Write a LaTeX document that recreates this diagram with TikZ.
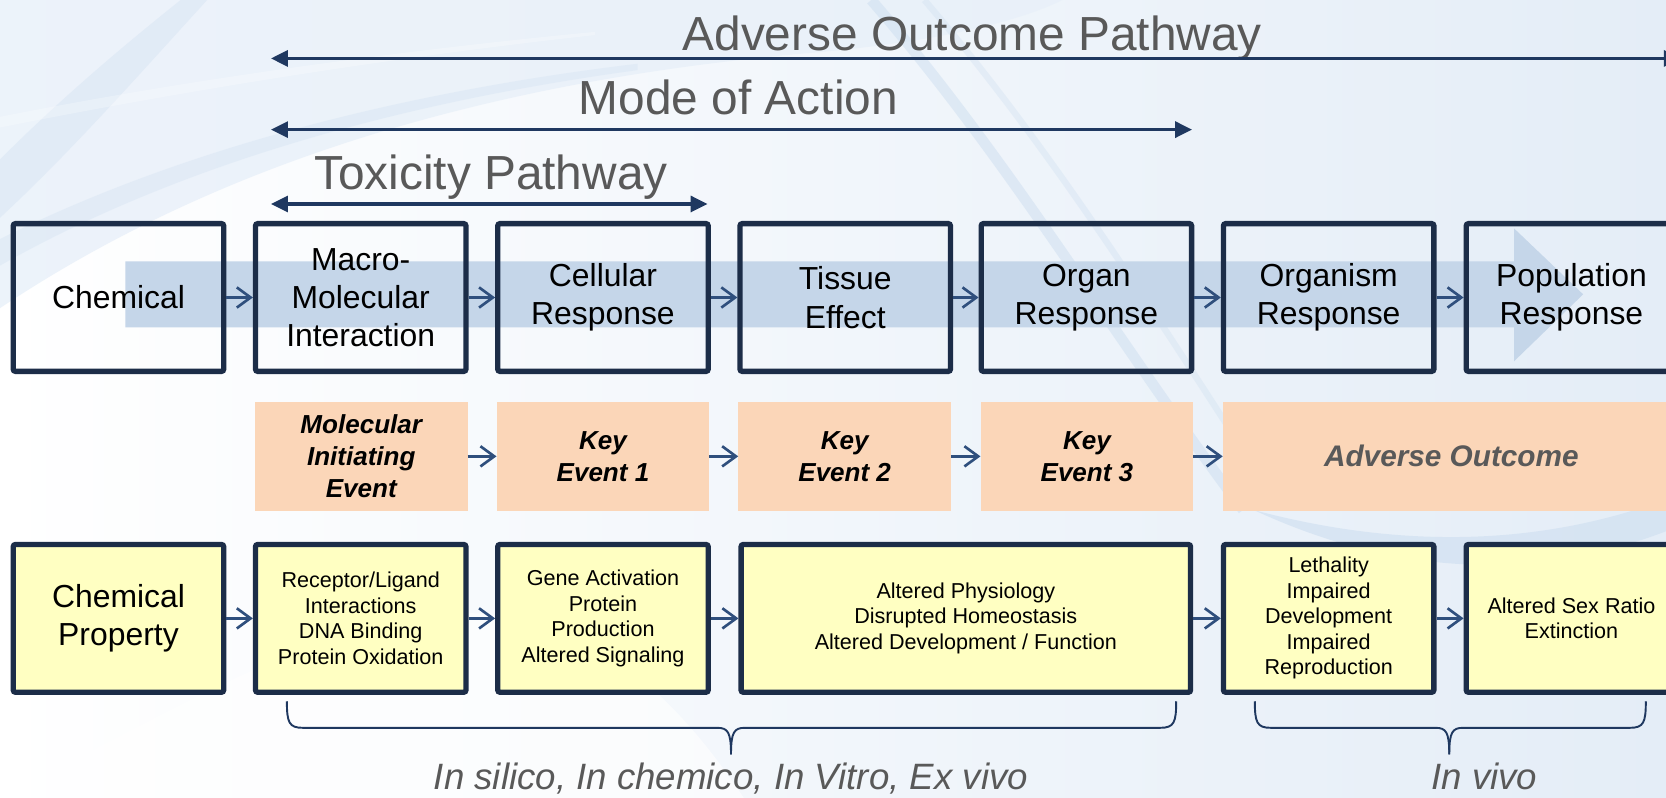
\documentclass[tikz,border=0pt]{standalone}
\usepackage{fontspec}
\setmainfont{Liberation Sans}
\usetikzlibrary{arrows.meta}
\definecolor{navy}{RGB}{28,45,72}
\definecolor{arrowblue}{RGB}{31,56,96}
\definecolor{smallarrow}{RGB}{47,79,125}
\definecolor{txtgray}{RGB}{89,89,89}
\definecolor{peach}{RGB}{251,214,184}
\definecolor{paleyellow}{RGB}{255,255,194}
\definecolor{bandblue}{RGB}{197,214,233}
\definecolor{bgblue}{RGB}{228,237,247}
\definecolor{swoosh}{RGB}{205,222,240}
\definecolor{paleblue}{RGB}{232,240,249}
\tikzset{
 stagebox/.style={draw=navy, line width=5pt, rounded corners=2pt, minimum width=198pt, minimum height=139pt, align=center, font=\fontsize{30}{36}\selectfont, inner sep=0pt},
 propbox/.style={stagebox, fill=paleyellow},
 eventbox/.style={fill=peach, minimum width=200pt, minimum height=103pt, align=center, font=\fontsize{24.5}{30}\selectfont\bfseries\itshape, inner sep=0pt},
 smalltext/.style={font=\fontsize{20.3}{24}\selectfont},
 flow/.style={draw=smallarrow, line width=2.5pt, -{Straight Barb[length=13pt,width=19pt]}},
 span/.style={draw=arrowblue, line width=3pt, {Triangle[length=16pt,width=15pt]}-{Triangle[length=16pt,width=15pt]}},
 title/.style={font=\fontsize{45}{50}\selectfont, text=txtgray, inner sep=0pt, anchor=base},
 brace/.style={draw=arrowblue, line width=1.8pt},
 method/.style={font=\fontsize{34.5}{38}\selectfont\itshape, text=txtgray, inner sep=0pt, anchor=base},
}
\begin{document}
\begin{tikzpicture}[x=1pt,y=-1pt]
\useasboundingbox (0,0) rectangle (1568,751);
% background
\fill[left color=white, right color=bgblue] (0,0) rectangle (1568,751);
\fill[white, opacity=0.6] (0,751) .. controls (300,600) and (500,450) .. (700,751) -- cycle;
\fill[paleblue, opacity=0.8] (0,0) -- (0,290) .. controls (180,170) and (420,80) .. (760,50) .. controls (880,40) and (960,20) .. (1000,0) -- cycle;
\fill[swoosh, opacity=0.35] (0,150) .. controls (60,90) and (120,40) .. (170,0) -- (195,0) .. controls (140,60) and (70,140) .. (0,205) -- cycle;
\fill[swoosh, opacity=0.3] (0,225) .. controls (150,150) and (350,90) .. (600,60) -- (600,66) .. controls (350,100) and (150,165) .. (0,250) -- cycle;
\fill[white, opacity=0.25] (0,110) .. controls (150,80) and (350,50) .. (560,30) -- (560,33) .. controls (350,56) and (150,90) .. (0,120) -- cycle;
\draw[swoosh, opacity=0.5, line width=10pt] (820,0) .. controls (950,150) and (1050,320) .. (1170,480);
\draw[swoosh, opacity=0.35, line width=6pt] (870,0) .. controls (990,140) and (1090,300) .. (1200,470);
\fill[swoosh, opacity=0.6] (1180,480) .. controls (1330,520) and (1460,510) .. (1568,470) -- (1568,500) .. controls (1450,545) and (1320,545) .. (1180,480) -- cycle;

% top spans
\node[title] (aopt) at (915,48) {Adverse Outcome Pathway};
\node[title] (moat) at (695,108) {Mode of Action};
\node[title] (tpt) at (462,178) {Toxicity Pathway};
\coordinate (aopL) at (255,55); \coordinate (aopR) at (1582,55);
\coordinate (moaL) at (255,122); \coordinate (moaR) at (1122,122);
\coordinate (tpL) at (255,192); \coordinate (tpR) at (666,192);
\draw[span] (aopL) -- (aopR);
\draw[span] (moaL) -- (moaR);
\draw[span] (tpL) -- (tpR);

% big band arrow
\fill[bandblue] (118,246) -- (1425,246) -- (1425,215) -- (1490,277) -- (1425,340) -- (1425,308) -- (118,308) -- cycle;

% row 1
\node[stagebox] (chem) at (111.5,280) {Chemical};
\node[stagebox] (macro) at (339.5,280) {Macro-\\Molecular\\Interaction};
\node[stagebox] (cell) at (567.5,280) {Cellular\\Response};
\node[stagebox] (tissue) at (795.5,280) {Tissue\\Effect};
\node[stagebox] (organ) at (1022.5,280) {Organ\\Response};
\node[stagebox] (organism) at (1250.5,280) {Organism\\Response};
\node[stagebox] (pop) at (1479,280) {Population\\Response};
\draw[flow] (chem) -- (macro);
\draw[flow] (macro) -- (cell);
\draw[flow] (cell) -- (tissue);
\draw[flow] (tissue) -- (organ);
\draw[flow] (organ) -- (organism);
\draw[flow] (organism) -- (pop);

% row 2
\node[eventbox] (mie) at (340,429.5) {Molecular\\Initiating\\Event};
\node[eventbox] (ke1) at (567.5,429.5) {Key\\Event 1};
\node[eventbox] (ke2) at (795,429.5) {Key\\Event 2};
\node[eventbox] (ke3) at (1023,429.5) {Key\\Event 3};
\node[eventbox, minimum width=430pt, text=txtgray, font=\fontsize{28}{32}\selectfont\bfseries\itshape] (ao) at (1366,429.5) {Adverse Outcome};
\draw[flow] (mie) -- (ke1);
\draw[flow] (ke1) -- (ke2);
\draw[flow] (ke2) -- (ke3);
\draw[flow] (ke3) -- (ao);

% row 3
\node[propbox] (prop) at (111.5,582) {Chemical\\Property};
\node[propbox, smalltext] (rec) at (339.5,582) {Receptor/Ligand\\Interactions\\DNA Binding\\Protein Oxidation};
\node[propbox, smalltext] (gene) at (567.5,582) {Gene Activation\\Protein\\Production\\Altered Signaling};
\node[propbox, smalltext, minimum width=423pt] (phys) at (909,582) {Altered Physiology\\Disrupted Homeostasis\\Altered Development / Function};
\node[propbox, smalltext] (leth) at (1250.5,582) {Lethality\\Impaired\\Development\\Impaired\\Reproduction};
\node[propbox, smalltext] (sex) at (1479,582) {Altered Sex Ratio\\Extinction};
\draw[flow] (prop) -- (rec);
\draw[flow] (rec) -- (gene);
\draw[flow] (gene) -- (phys);
\draw[flow] (phys) -- (leth);
\draw[flow] (leth) -- (sex);

% braces
\coordinate (b1L) at (270,660); \coordinate (b1T) at (688,710); \coordinate (b1R) at (1107,660);
\draw[brace] (b1L) .. controls (270,680) and (272,685) .. (285,685) -- (675,685) .. controls (685,685) and (688,689) .. (b1T);
\draw[brace] (b1T) .. controls (688,689) and (691,685) .. (701,685) -- (1092,685) .. controls (1105,685) and (1107,680) .. (b1R);
\coordinate (b2L) at (1181,660); \coordinate (b2T) at (1364,710); \coordinate (b2R) at (1549,660);
\draw[brace] (b2L) .. controls (1181,680) and (1183,685) .. (1196,685) -- (1351,685) .. controls (1361,685) and (1364,689) .. (b2T);
\draw[brace] (b2T) .. controls (1364,689) and (1367,685) .. (1377,685) -- (1534,685) .. controls (1547,685) and (1549,680) .. (b2R);

\node[method] (vitro) at (688,743) {In silico, In chemico, In Vitro, Ex vivo};
\node[method] (vivo) at (1397,743) {In vivo};
\end{tikzpicture}
\end{document}
